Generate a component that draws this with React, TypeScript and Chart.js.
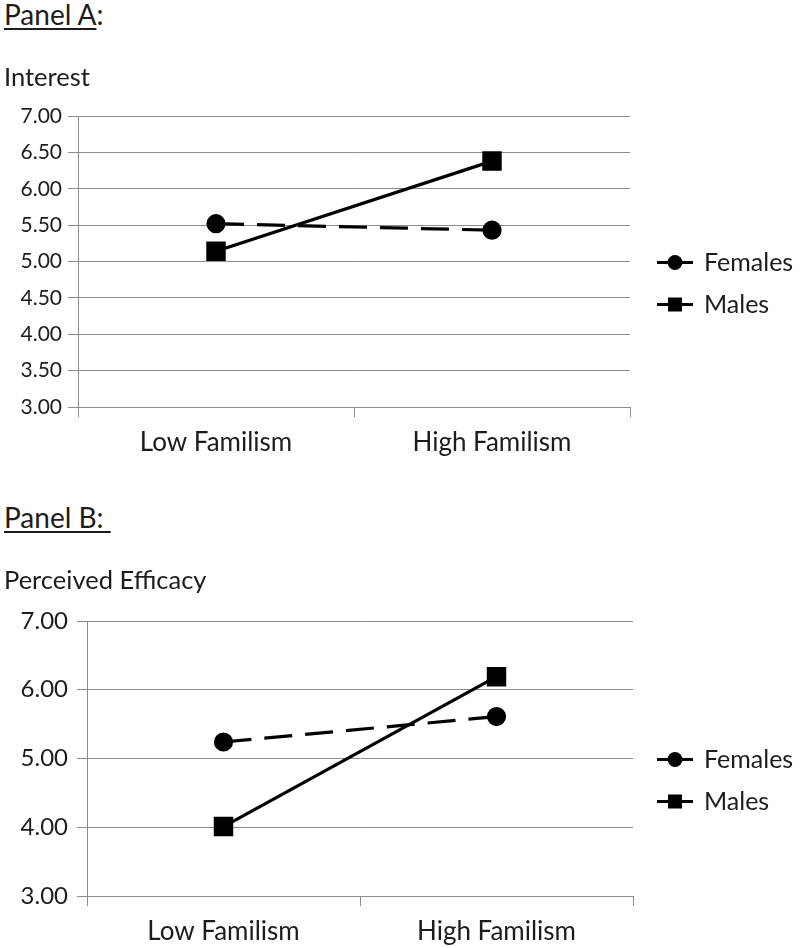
import React, { useEffect, useRef } from "react";
import { Chart, registerables } from "chart.js";

Chart.register(...registerables);

// ---------- data ----------
const categories = ["Low Familism", "High Familism"];
const seriesNames = ["Females", "Males"];
const interestFemales = [5.52, 5.43];
const interestMales = [5.14, 6.38];
const efficacyFemales = [5.24, 5.61];
const efficacyMales = [4.01, 6.19];
const interestTickStep = 0.5;
const efficacyTickStep = 1;
const yMin = 3;
const yMax = 7;
const panelATitle = "Interest";
const panelBTitle = "Perceived Efficacy";

const TEXT = "#1c1c1c";
const GRID = "#8c8c8c";
const FONT = "Lato";

const sideLegend = {
  id: "sideLegend",
  afterDraw(chart: any, _args: any, opts: any) {
    const ctx = chart.ctx;
    const ca = chart.chartArea;
    const cy = (ca.top + ca.bottom) / 2;
    chart.data.datasets.forEach((ds: any, i: number) => {
      const y = cy + opts.offsetY + i * opts.spacing;
      const x0 = opts.x;
      ctx.save();
      ctx.strokeStyle = ds.borderColor;
      ctx.lineWidth = 3;
      ctx.beginPath();
      ctx.moveTo(x0, y);
      ctx.lineTo(x0 + 36, y);
      ctx.stroke();
      ctx.fillStyle = ds.pointBackgroundColor;
      const cx = x0 + 18;
      if (ds.pointStyle === "rect") {
        ctx.fillRect(cx - 7, y - 7, 14, 14);
      } else {
        ctx.beginPath();
        ctx.arc(cx, y, 7.5, 0, Math.PI * 2);
        ctx.fill();
      }
      ctx.fillStyle = TEXT;
      ctx.font = `${opts.fontSize}px ${FONT}`;
      ctx.textBaseline = "middle";
      ctx.textAlign = "left";
      ctx.fillText(ds.label, x0 + 47, y);
      ctx.restore();
    });
  },
};

type PanelProps = {
  top: number;
  height: number;
  title: string;
  females: number[];
  males: number[];
  step: number;
  yTickFont: number;
  yAxisWidth: number;
  yTickPad: number;
  rightPad: number;
  titlePadTop: number;
  titlePadBottom: number;
  chartBottom: number;
};

const LEFT_PAD = 4;

function Panel(p: PanelProps) {
  const ref = useRef<HTMLCanvasElement | null>(null);
  useEffect(() => {
    if (!ref.current) return;
    const chart = new Chart(ref.current, {
      type: "line",
      data: {
        labels: categories,
        datasets: [
          {
            label: seriesNames[0],
            data: p.females,
            borderColor: "#000",
            backgroundColor: "#000",
            pointBackgroundColor: "#000",
            pointBorderColor: "#000",
            borderWidth: 3.2,
            borderDash: [28, 13],
            pointStyle: "circle",
            pointRadius: 8,
            pointHoverRadius: 8,
            tension: 0,
          },
          {
            label: seriesNames[1],
            data: p.males,
            borderColor: "#000",
            backgroundColor: "#000",
            pointBackgroundColor: "#000",
            pointBorderColor: "#000",
            borderWidth: 3.2,
            pointStyle: "rect",
            pointRadius: 11.5,
            pointHoverRadius: 11.5,
            tension: 0,
          },
        ],
      },
      options: {
        responsive: false,
        animation: false,
        events: [],
        layout: { padding: { left: LEFT_PAD, right: p.rightPad, top: 0, bottom: 0 } },
        plugins: {
          legend: { display: false },
          tooltip: { enabled: false },
          title: {
            display: true,
            text: p.title,
            align: "start",
            color: TEXT,
            font: { family: FONT, size: 25.5, weight: "normal" },
            padding: { top: p.titlePadTop, bottom: p.titlePadBottom },
          },
          sideLegend: { x: 657, offsetY: 1, spacing: 42, fontSize: 25 },
        } as any,
        scales: {
          x: {
            type: "category",
            offset: true,
            grid: {
              offset: true,
              drawOnChartArea: false,
              drawTicks: true,
              tickLength: 10,
              color: GRID,
              lineWidth: 1,
            },
            border: { display: true, color: GRID, width: 1 },
            ticks: {
              color: TEXT,
              font: { family: FONT, size: 26 },
              padding: 10.5,
              maxRotation: 0,
            },
            afterFit: (s: any) => {
              s.height = p.height - p.chartBottom;
            },
          },
          y: {
            min: yMin,
            max: yMax,
            grid: {
              drawTicks: true,
              tickLength: 10,
              color: GRID,
              lineWidth: 1,
            },
            border: { display: true, color: GRID, width: 1 },
            ticks: {
              stepSize: p.step,
              color: TEXT,
              font: { family: FONT, size: p.yTickFont },
              padding: p.yTickPad,
              callback: (v: any) => Number(v).toFixed(2),
            },
            afterFit: (s: any) => {
              s.width = p.yAxisWidth - LEFT_PAD;
            },
          },
        },
      },
      plugins: [sideLegend as any],
    });
    return () => chart.destroy();
  }, []);
  return (
    <canvas
      ref={ref}
      width={800}
      height={p.height}
      style={{ position: "absolute", left: 0, top: p.top, display: "block" }}
    />
  );
}

const labelStyle: React.CSSProperties = {
  position: "absolute",
  left: 4,
  fontFamily: FONT,
  fontSize: 28,
  lineHeight: "28px",
  color: TEXT,
  whiteSpace: "pre",
};
const ul: React.CSSProperties = {
  textDecoration: "underline",
  textDecorationThickness: "2px",
  textUnderlineOffset: "3px",
};

export default function App() {
  return (
    <div style={{ position: "absolute", left: 0, top: 0, width: 800, height: 948, background: "#fff" }}>
      <div style={{ ...labelStyle, top: 0 }}>
        <span style={ul}>Panel A</span>:
      </div>
      <Panel
        top={50}
        height={430}
        title={panelATitle}
        females={interestFemales}
        males={interestMales}
        step={interestTickStep}
        yTickFont={21}
        yAxisWidth={78}
        yTickPad={6}
        rightPad={170}
        titlePadTop={12}
        titlePadBottom={23.4}
        chartBottom={357}
      />
      <div style={{ ...labelStyle, top: 503 }}>
        <span style={ul}>{"Panel B: "}</span>
      </div>
      <Panel
        top={540}
        height={408}
        title={panelBTitle}
        females={efficacyFemales}
        males={efficacyMales}
        step={efficacyTickStep}
        yTickFont={24}
        yAxisWidth={87}
        yTickPad={9}
        rightPad={167}
        titlePadTop={25.5}
        titlePadBottom={24.9}
        chartBottom={356}
      />
    </div>
  );
}
